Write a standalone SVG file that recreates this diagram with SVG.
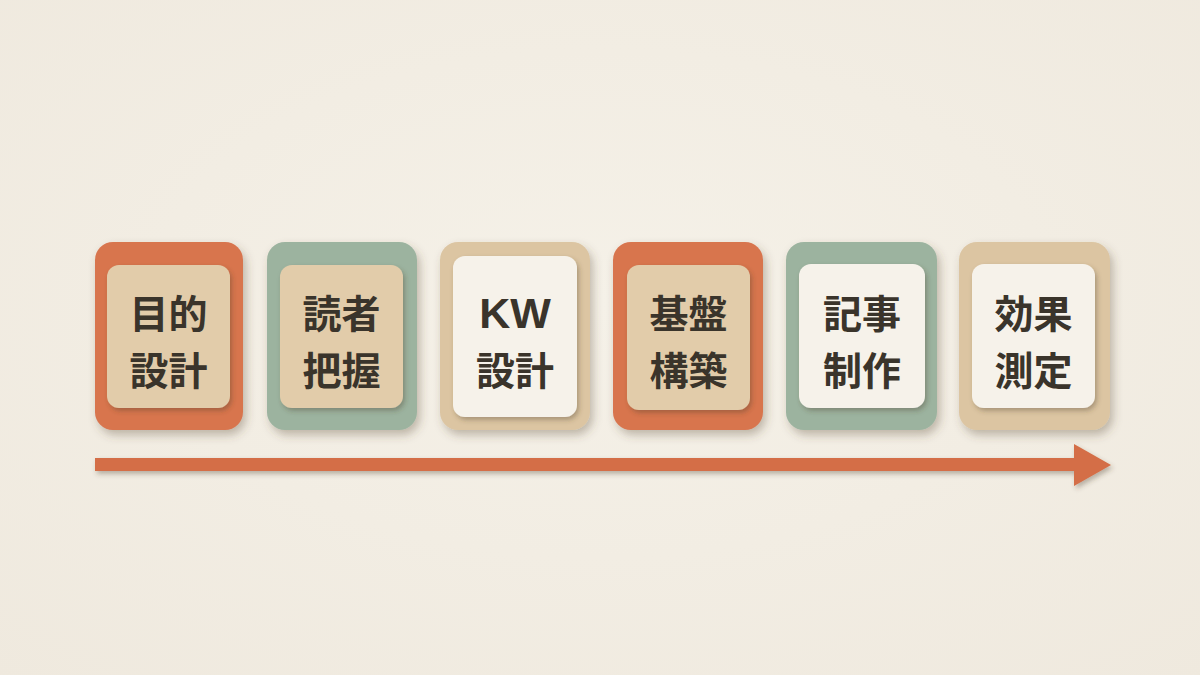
<svg xmlns="http://www.w3.org/2000/svg" width="1200" height="675" viewBox="0 0 1200 675">
<defs>
<filter id="sh" x="-20%" y="-20%" width="140%" height="140%">
<feDropShadow dx="3" dy="5" stdDeviation="5" flood-color="#5a4a35" flood-opacity="0.35"/>
</filter>
<filter id="sh2" x="-20%" y="-20%" width="140%" height="140%">
<feDropShadow dx="2" dy="3" stdDeviation="2.5" flood-color="#4a3a25" flood-opacity="0.35"/>
</filter>
<radialGradient id="bg" cx="50%" cy="45%" r="75%">
<stop offset="0" stop-color="#F5F1E8"/>
<stop offset="1" stop-color="#EFE9DE"/>
</radialGradient>
</defs>
<style>
.orange{fill:#D8744E}
.sage{fill:#9CB39F}
.tan{fill:#DCC5A2}
.inTan{fill:#E2CCAA}
.inWhite{fill:#F6F2EA}
.t{font-family:"Noto Sans CJK JP","Noto Sans",sans-serif;font-weight:700;font-size:39px;fill:#3A342B;text-anchor:middle}
.kw{font-family:"Liberation Sans",sans-serif;font-weight:700;font-size:43px;fill:#3A342B;text-anchor:middle}
</style>
<rect width="1200" height="675" fill="url(#bg)"/>

<g id="node1">
<rect class="orange" x="95" y="242" width="148" height="188" rx="18" filter="url(#sh)"/>
<rect class="inTan" x="107" y="265" width="123" height="143" rx="12" filter="url(#sh2)"/>
<text class="t" x="168.5" y="328">目的</text>
<text class="t" x="168.5" y="385">設計</text>
</g>
<g id="node2">
<rect class="sage" x="267" y="242" width="150" height="188" rx="18" filter="url(#sh)"/>
<rect class="inTan" x="280" y="265" width="123" height="143" rx="12" filter="url(#sh2)"/>
<text class="t" x="341.5" y="328">読者</text>
<text class="t" x="341.5" y="385">把握</text>
</g>
<g id="node3">
<rect class="tan" x="440" y="242" width="150" height="188" rx="18" filter="url(#sh)"/>
<rect class="inWhite" x="453" y="256" width="124" height="161" rx="12" filter="url(#sh2)"/>
<text class="kw" x="515" y="328">KW</text>
<text class="t" x="515" y="385">設計</text>
</g>
<g id="node4">
<rect class="orange" x="613" y="242" width="150" height="188" rx="18" filter="url(#sh)"/>
<rect class="inTan" x="627" y="265" width="123" height="145" rx="12" filter="url(#sh2)"/>
<text class="t" x="688.5" y="328">基盤</text>
<text class="t" x="688.5" y="385">構築</text>
</g>
<g id="node5">
<rect class="sage" x="786" y="242" width="151" height="188" rx="18" filter="url(#sh)"/>
<rect class="inWhite" x="799" y="264" width="126" height="144" rx="12" filter="url(#sh2)"/>
<text class="t" x="862" y="328">記事</text>
<text class="t" x="862" y="385">制作</text>
</g>
<g id="node6">
<rect class="tan" x="959" y="242" width="151" height="188" rx="18" filter="url(#sh)"/>
<rect class="inWhite" x="972" y="264" width="123" height="144" rx="12" filter="url(#sh2)"/>
<text class="t" x="1033.5" y="328">効果</text>
<text class="t" x="1033.5" y="385">測定</text>
</g>

<g id="connectors">
<path d="M95 458 L1074 458 L1074 444 L1111 465 L1074 486 L1074 471 L95 471 Z" fill="#D46E47" filter="url(#sh2)"/>
</g>
</svg>
